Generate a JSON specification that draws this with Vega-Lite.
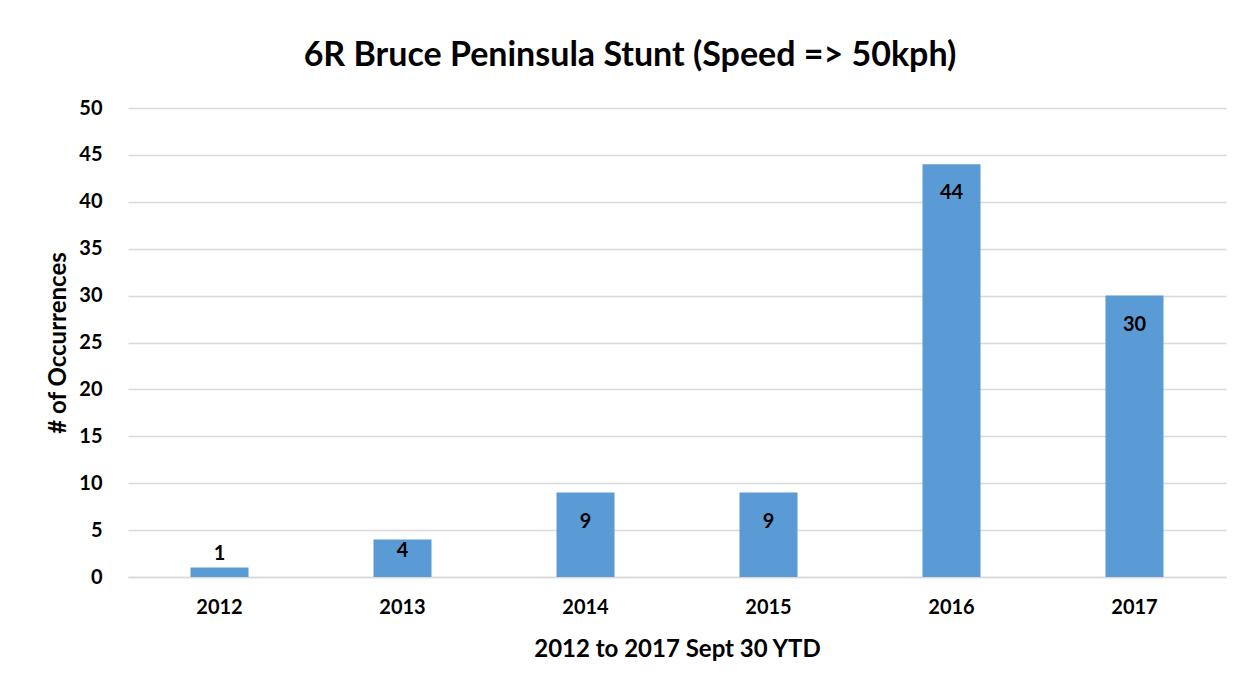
{
  "$schema": "https://vega.github.io/schema/vega-lite/v6.json",
  "width": 1098,
  "height": 469,
  "autosize": {"type": "none"},
  "padding": {"left": 128, "top": 108, "right": 26, "bottom": 113},
  "background": "white",
  "config": {
    "font": "Lato",
    "view": {"stroke": null},
    "axis": {"labelFont": "Lato", "titleFont": "Lato", "labelColor": "black", "titleColor": "black"}
  },
  "title": {
    "text": "6R Bruce Peninsula Stunt (Speed => 50kph)",
    "fontSize": 34,
    "fontWeight": "bold",
    "font": "Lato",
    "color": "black",
    "anchor": "middle",
    "dx": -47,
    "offset": 25
  },
  "data": {
    "values": [
      {"year": "2012", "count": 1},
      {"year": "2013", "count": 4},
      {"year": "2014", "count": 9},
      {"year": "2015", "count": 9},
      {"year": "2016", "count": 44},
      {"year": "2017", "count": 30}
    ]
  },
  "encoding": {
    "x": {
      "field": "year",
      "type": "ordinal",
      "scale": {"paddingInner": 0.683, "paddingOuter": 0.3415},
      "axis": {
        "title": "2012 to 2017 Sept 30 YTD",
        "labelAngle": 0,
        "labelFontSize": 20,
        "labelFontWeight": "bold",
        "labelPadding": 20,
        "titleFontSize": 24,
        "titleFontWeight": "bold",
        "titlePadding": 20,
        "ticks": false,
        "domainColor": "#D9D9D9",
        "domainWidth": 1.5
      }
    },
    "y": {
      "field": "count",
      "type": "quantitative",
      "scale": {"domain": [0, 50]},
      "axis": {
        "title": "# of Occurrences",
        "values": [0, 5, 10, 15, 20, 25, 30, 35, 40, 45, 50],
        "labelFontSize": 20,
        "labelFontWeight": "bold",
        "labelPadding": 26,
        "titleFontSize": 24,
        "titleFontWeight": "bold",
        "titlePadding": 8,
        "ticks": false,
        "domain": false,
        "gridColor": "#D9D9D9",
        "gridWidth": 1.5
      }
    }
  },
  "layer": [
    {"mark": {"type": "bar", "color": "#5B9BD5"}},
    {
      "transform": [{"filter": "datum.count >= 9"}],
      "mark": {"type": "text", "fontSize": 20, "fontWeight": "bold", "color": "black", "baseline": "middle", "dy": 29},
      "encoding": {"text": {"field": "count"}}
    },
    {
      "transform": [{"filter": "datum.count == 4"}],
      "mark": {"type": "text", "fontSize": 20, "fontWeight": "bold", "color": "black", "baseline": "middle", "dy": 12},
      "encoding": {"text": {"field": "count"}}
    },
    {
      "transform": [{"filter": "datum.count < 4"}],
      "mark": {"type": "text", "fontSize": 20, "fontWeight": "bold", "color": "black", "baseline": "middle", "dy": -14},
      "encoding": {"text": {"field": "count"}}
    }
  ]
}
